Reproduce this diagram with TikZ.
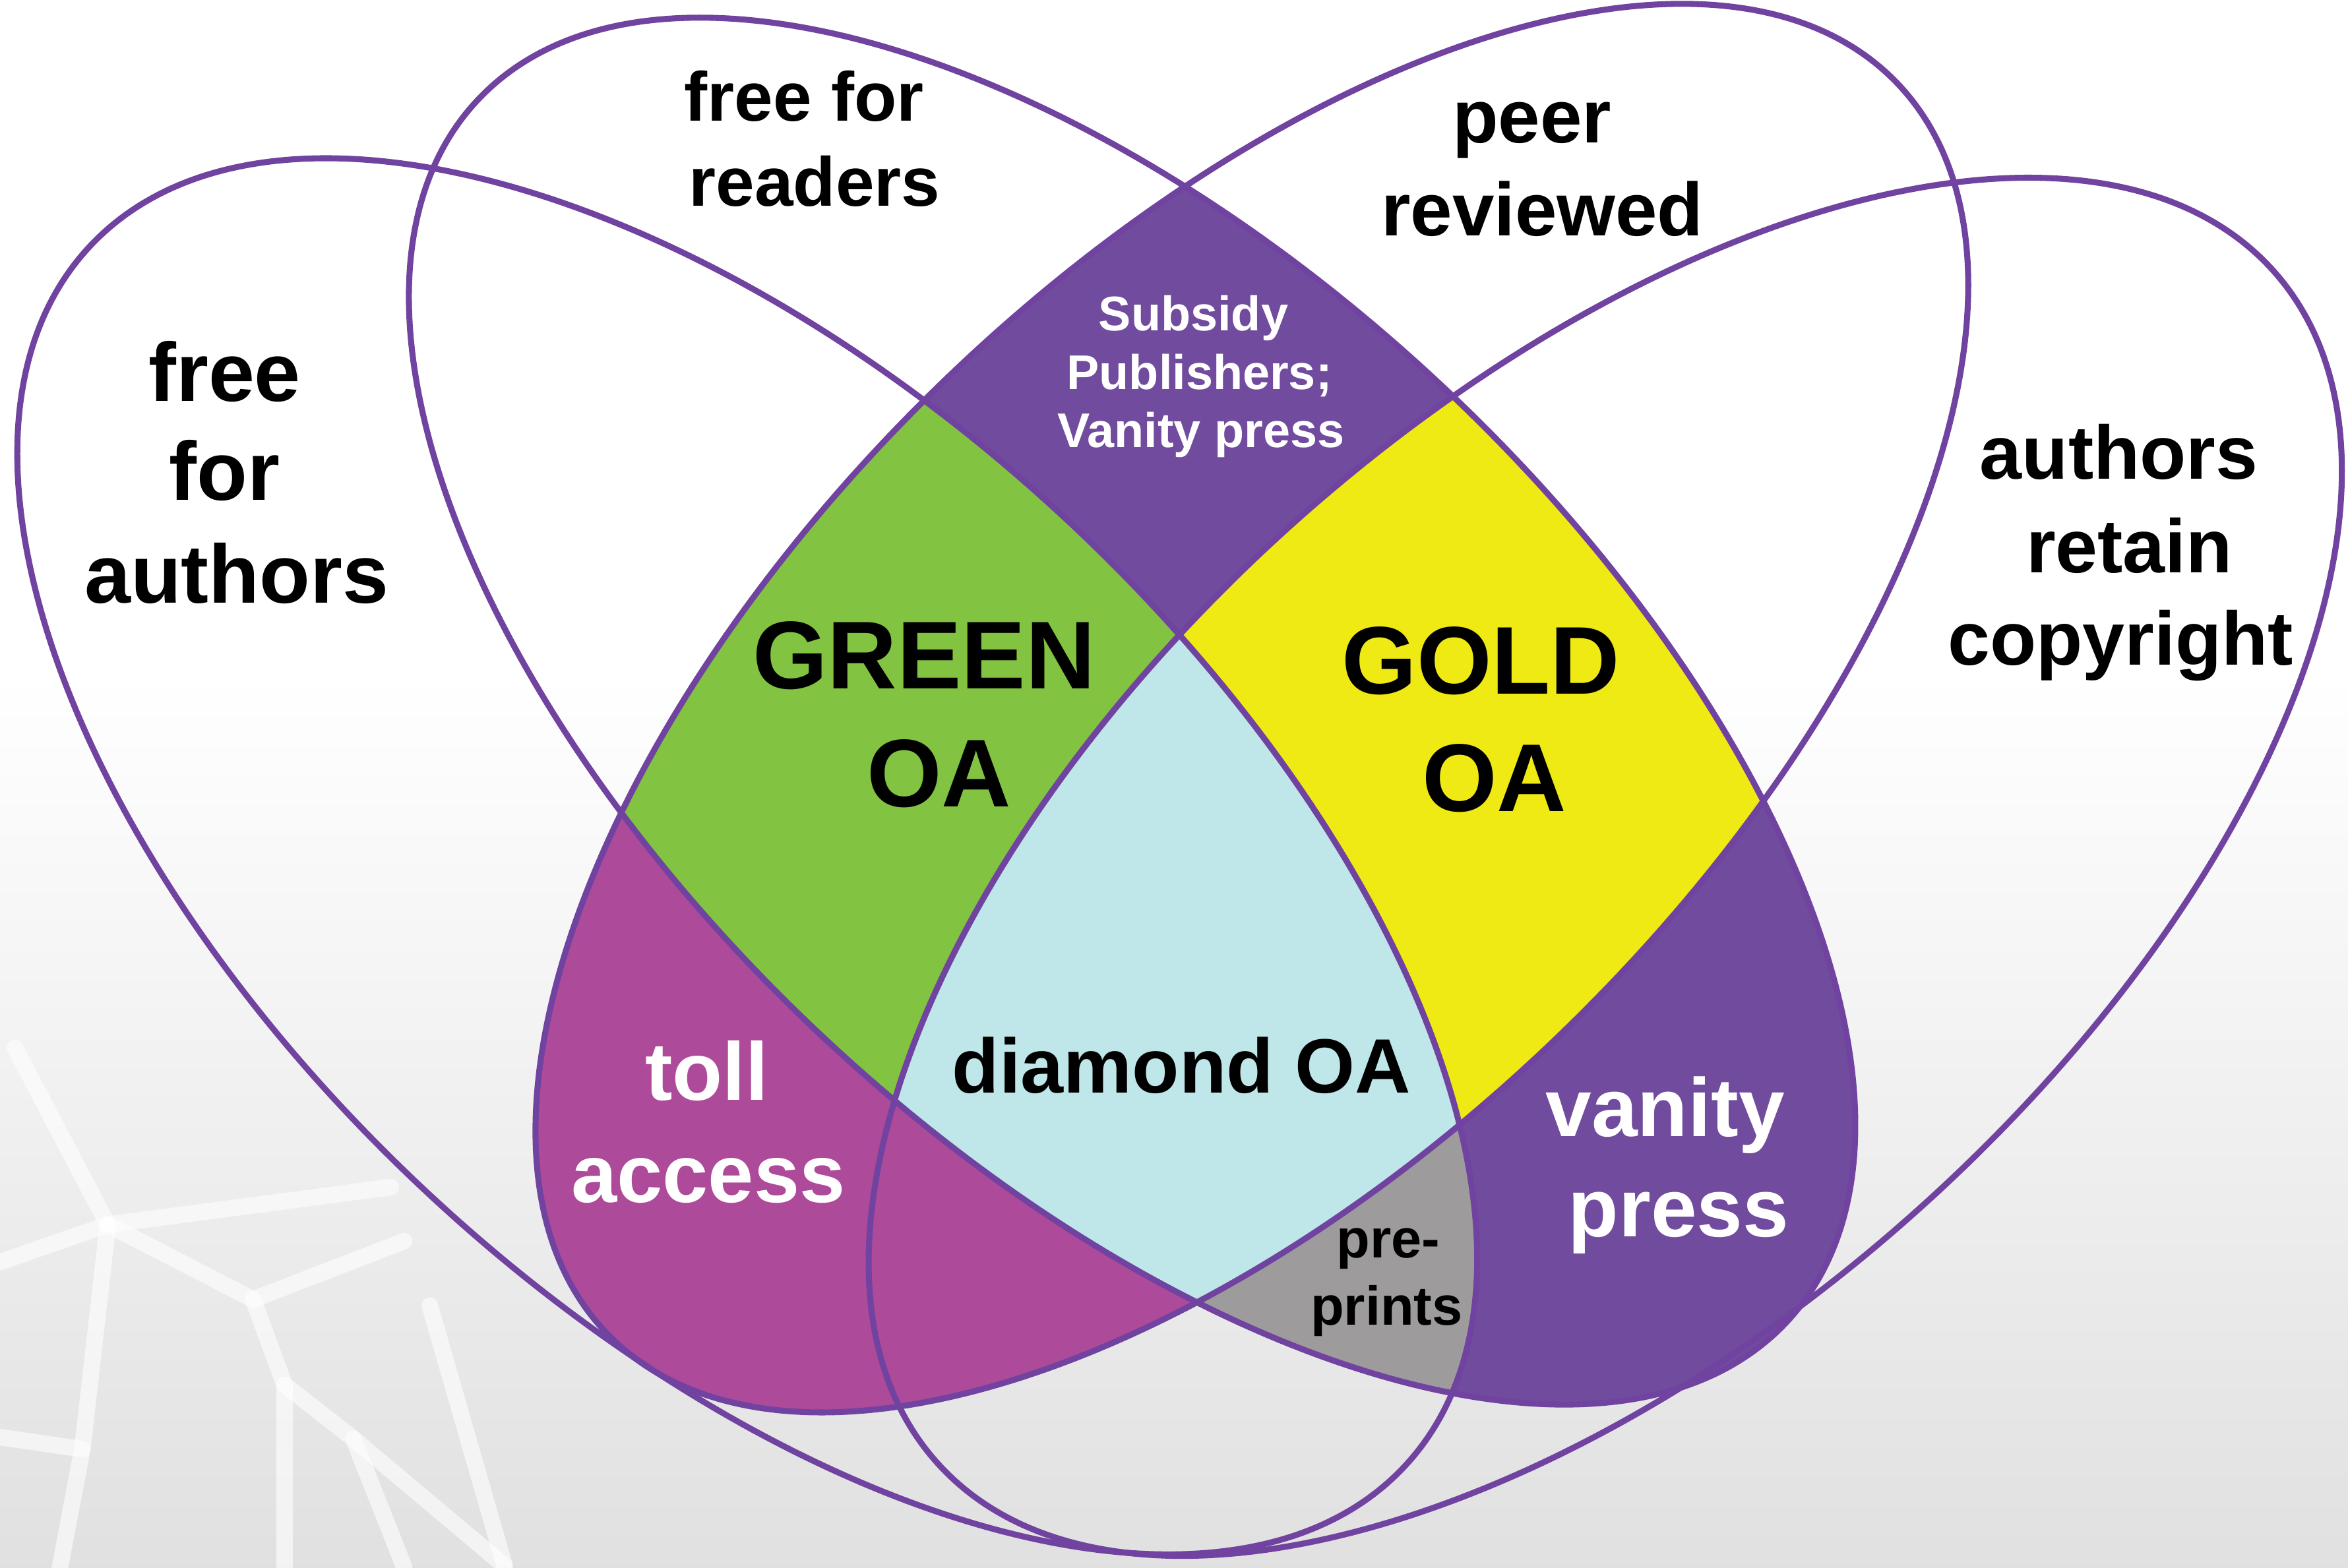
\documentclass[tikz,border=0pt]{standalone}
\usepackage{fontspec}
\setmainfont{Liberation Sans}
\definecolor{outl}{HTML}{7143A0}
\definecolor{cpurple}{HTML}{714B9D}
\definecolor{cgreen}{HTML}{82C341}
\definecolor{cgold}{HTML}{F0EA14}
\definecolor{cdiamond}{HTML}{BFE6E8}
\definecolor{ctoll}{HTML}{AE4A9A}
\definecolor{cgrey}{HTML}{9D9B9C}
\tikzset{
  lbl/.style={anchor=base, inner sep=0pt},
  ring/.style={draw=outl, line width=0.4mm},
  net/.style={draw=white, line width=1.1mm, opacity=0.6, line cap=round, line join=round},
}
\newcommand{\fsz}[1]{\fontsize{#1}{#1}\selectfont\bfseries}
\begin{document}
\begin{tikzpicture}[x=0.1mm, y=-0.1mm]
\useasboundingbox (0,0) rectangle (1568,1047);
% background
\fill[white] (0,0) rectangle (1568,1047);
\shade[top color=white, bottom color=black!12] (0,450) rectangle (1568,1047);
\draw[net] (0,843) -- (72,818) -- (169,868) -- (190,925) -- (236,961) -- (337,1046);
\draw[net] (72,818) -- (55,968) -- (40,1047);
\draw[net] (72,818) -- (261,793);
\draw[net] (169,868) -- (270,829);
\draw[net] (190,925) -- (190,1047);
\draw[net] (287,872) -- (337,1046);
\draw[net] (10,700) -- (72,818);
\draw[net] (0,960) -- (55,968);
\draw[net] (236,961) -- (270,1047);
% ellipse paths
\path[save path=\pA, rotate around={-42.8:(499,572)}] (499,572) ellipse [x radius=59.9mm, y radius=31mm];
\path[save path=\pB, rotate around={-43.0:(756,475)}] (756,475) ellipse [x radius=59.8mm, y radius=30mm];
\path[save path=\pC, rotate around={44.2:(836,473)}] (836,473) ellipse [x radius=60mm, y radius=30mm];
\path[save path=\pD, rotate around={41.7:(1072,579)}] (1072,579) ellipse [x radius=59.8mm, y radius=31mm];
% toll access
\begin{scope}
  \clip[use path=\pC];
  \clip (0,450) rectangle (900,1047);
  \fill[ctoll] (0,0) rectangle (1568,1047);
\end{scope}
% vanity press and pre-prints
\begin{scope}
  \clip[use path=\pB];
  \clip (700,450) rectangle (1568,1047);
  \fill[cpurple] (0,0) rectangle (1568,1047);
  \clip[use path=\pA];
  \fill[cgrey] (0,0) rectangle (1568,1047);
\end{scope}
% centre regions
\begin{scope}
  \clip[use path=\pB];
  \clip[use path=\pC];
  \fill[cpurple] (0,0) rectangle (1568,1047);
  \begin{scope}
    \clip[use path=\pA];
    \fill[cgreen] (0,0) rectangle (1568,1047);
  \end{scope}
  \begin{scope}
    \clip[use path=\pD];
    \fill[cgold] (0,0) rectangle (1568,1047);
    \clip[use path=\pA];
    \fill[cdiamond] (0,0) rectangle (1568,1047);
  \end{scope}
\end{scope}
% outlines
\path[ring, use path=\pA];
\path[ring, use path=\pB];
\path[ring, use path=\pC];
\path[ring, use path=\pD];
% labels
\node[lbl, font=\fsz{15.76}] (fa1) at (150,268) {free};
\node[lbl, font=\fsz{15.76}] (fa2) at (150,334) {for};
\node[lbl, font=\fsz{15.76}] (fa3) at (158,403) {authors};
\node[lbl, font=\fsz{13.2}] (fr1) at (537,81) {free for};
\node[lbl, font=\fsz{13.2}] (fr2) at (544,137.5) {readers};
\node[lbl, font=\fsz{14.3}] (pr1) at (1023,95.4) {peer};
\node[lbl, font=\fsz{14.3}] (pr2) at (1030,157.4) {reviewed};
\node[lbl, font=\fsz{14.4}] (rc1) at (1415,320) {authors};
\node[lbl, font=\fsz{14.4}] (rc2) at (1422,382.6) {retain};
\node[lbl, font=\fsz{14.4}] (rc3) at (1416,444) {copyright};
\node[lbl, font=\fsz{9.25}, text=white] (sp1) at (797,221) {Subsidy};
\node[lbl, font=\fsz{9.25}, text=white] (sp2) at (801,260) {Publishers;};
\node[lbl, font=\fsz{9.25}, text=white] (sp3) at (802,299) {Vanity press};
\node[lbl, font=\fsz{18.3}] (gr1) at (617,460) {GREEN};
\node[lbl, font=\fsz{18.3}] (gr2) at (627,539) {OA};
\node[lbl, font=\fsz{18.3}] (go1) at (989,463.5) {GOLD};
\node[lbl, font=\fsz{18.3}] (go2) at (998,542) {OA};
\node[lbl, font=\fsz{15.6}, text=white] (ta1) at (472,735) {toll};
\node[lbl, font=\fsz{15.6}, text=white] (ta2) at (473,803) {access};
\node[lbl, font=\fsz{14.65}] (dia) at (789,730) {diamond OA};
\node[lbl, font=\fsz{15.7}, text=white] (vp1) at (1112,759) {vanity};
\node[lbl, font=\fsz{15.7}, text=white] (vp2) at (1121,826) {press};
\node[lbl, font=\fsz{10.4}] (pp1) at (927,840) {pre-};
\node[lbl, font=\fsz{10.4}] (pp2) at (926,885) {prints};
\end{tikzpicture}
\end{document}
